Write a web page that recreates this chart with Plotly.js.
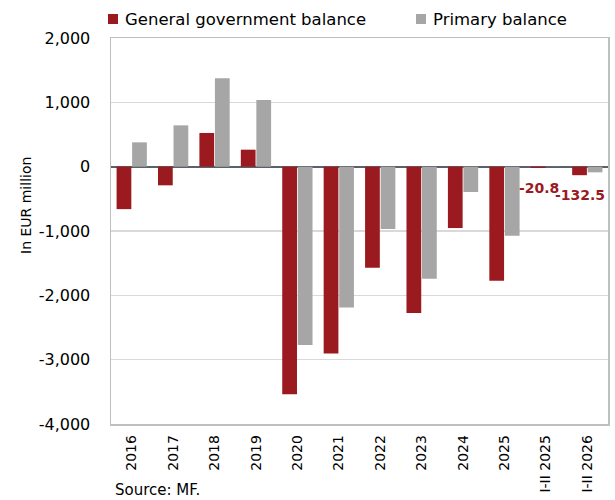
<!DOCTYPE html>
<html>
<head>
<meta charset="utf-8">
<script src="https://cdn.plot.ly/plotly-3.0.1.min.js"></script>
<style>html,body{margin:0;padding:0;background:#fff;}#chart{width:615px;height:500px;}</style>
</head>
<body>
<div id="chart"></div>
<script>
var categories = ["2016","2017","2018","2019","2020","2021","2022","2023","2024","2025","I-II 2025","I-II 2026"];
var generalBalance = [-660, -290, 524, 264, -3536, -2903, -1571, -2276, -954, -1773, -20.8, -132.5];
var primaryBalance = [378, 642, 1373, 1037, -2773, -2188, -969, -1742, -394, -1073, 2, -88];
var seriesNames = ["General government balance", "Primary balance"];
var labelIdx = [10, 11];
var yTicks = [2000, 1000, 0, -1000, -2000, -3000, -4000];
var yTickText = ["2,000", "1,000", "0", "-1,000", "-2,000", "-3,000", "-4,000"];

var FONT = "DejaVu Sans, sans-serif";
var RED = "#9b1a1f", GRAY = "#a6a6a6";
var COLORS = [RED, GRAY];

var traces = [
  {type: "bar", name: seriesNames[0], x: categories, y: generalBalance, marker: {color: RED}},
  {type: "bar", name: seriesNames[1], x: categories, y: primaryBalance, marker: {color: GRAY}}
];

// plot area in pixels: left 111, right 608, top 38, bottom 424
function px2x(p) { return (p - 111) / 497; }
function px2y(p) { return (424 - p) / 386; }

var annotations = labelIdx.map(function (i) {
  return {
    x: categories[i], y: generalBalance[i], xref: "x", yref: "y",
    text: "<b>" + String(generalBalance[i]) + "</b>",
    showarrow: false, yanchor: "top", xshift: -7, yshift: -10,
    font: {family: FONT, size: 14, color: RED}
  };
});
annotations.push({
  xref: "paper", yref: "paper", x: px2x(26), y: px2y(206), textangle: -90,
  text: "In EUR million", showarrow: false, xanchor: "center", yanchor: "middle",
  font: {family: FONT, size: 14, color: "#000"}
});
annotations.push({
  xref: "paper", yref: "paper", x: px2x(114), y: px2y(500), xanchor: "left", yanchor: "bottom",
  text: "Source: MF.", showarrow: false, borderpad: 0,
  font: {family: FONT, size: 15, color: "#000"}
});

// manual legend
var legSquareX = [108, 416];
var legTextX = [123, 431];
var shapes = [];
seriesNames.forEach(function (n, k) {
  shapes.push({
    type: "rect", xref: "paper", yref: "paper",
    x0: px2x(legSquareX[k]), x1: px2x(legSquareX[k] + 10),
    y0: px2y(24), y1: px2y(14),
    fillcolor: COLORS[k], line: {width: 0}
  });
  annotations.push({
    xref: "paper", yref: "paper", x: px2x(legTextX[k]), y: px2y(19.5),
    xanchor: "left", yanchor: "middle", showarrow: false, text: n,
    font: {family: FONT, size: 16.5, color: "#000"}
  });
});

var layout = {
  width: 615, height: 500,
  margin: {l: 111, r: 7, t: 38, b: 76},
  paper_bgcolor: "#fff", plot_bgcolor: "#fff",
  barmode: "group", bargap: 0.25, bargroupgap: 0.05,
  font: {family: FONT, color: "#000"},
  showlegend: false,
  xaxis: {
    type: "category", tickangle: -90, ticks: "",
    tickfont: {family: FONT, size: 14, color: "#000"},
    showline: true, mirror: true, linecolor: "#bfbfbf", linewidth: 1.5,
    showgrid: false, ticklabelstandoff: 4, automargin: false
  },
  yaxis: {
    range: [-4000, 2000], tickvals: yTicks, ticktext: yTickText,
    tickfont: {family: FONT, size: 16, color: "#000"},
    showgrid: true, gridcolor: "#d9d9d9", gridwidth: 1.5,
    zeroline: true, zerolinecolor: "#5b6168", zerolinewidth: 2,
    showline: true, mirror: true, linecolor: "#bfbfbf", linewidth: 1.5,
    ticks: "", ticklabelstandoff: 16, automargin: false
  },
  shapes: shapes,
  annotations: annotations
};

Plotly.newPlot("chart", traces, layout, {displayModeBar: false, staticPlot: true});
</script>
</body>
</html>
